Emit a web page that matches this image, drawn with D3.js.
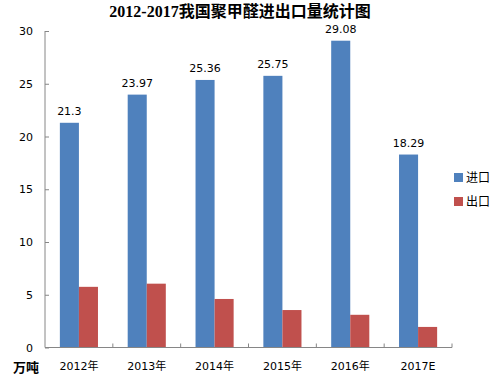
<!DOCTYPE html>
<html>
<head>
<meta charset="utf-8">
<script src="https://cdn.jsdelivr.net/npm/d3@7"></script>
<style>
  body { margin: 0; background: #fff; }
  svg { display: block; }
  text { font-family: "DejaVu Sans", "Noto Sans CJK SC", sans-serif; }
</style>
</head>
<body>
<script>
// chart data
var categories = ['2012年', '2013年', '2014年', '2015年', '2016年', '2017E'];
var importVals = [21.3, 23.97, 25.36, 25.75, 29.08, 18.29];
var exportVals = [5.75, 6.05, 4.6, 3.55, 3.1, 1.95];
var seriesNames = ['进口', '出口'];
var seriesColors = ['#4F81BD', '#C0504D'];
var yTicks = [0, 5, 10, 15, 20, 25, 30];

var w = 500, h = 378;
var plotL = 45, plotR = 452, plotT = 31, plotB = 347.5;

var svg = d3.select('body').append('svg')
    .attr('width', w)
    .attr('height', h);

var x = d3.scaleBand().domain(categories).range([plotL, plotR]);
var inner = d3.scaleBand().domain(seriesNames)
    .range([0, x.bandwidth()])
    .paddingOuter(0.78);
var y = d3.scaleLinear().domain([0, 30]).range([plotB, plotT]);

// title
svg.append('text')
    .attr('x', 240).attr('y', 17)
    .attr('text-anchor', 'middle')
    .style('font-family', '"Liberation Serif", "Noto Sans CJK SC", serif')
    .style('font-weight', 'bold')
    .style('font-size', '16px')
    .text('2012-2017我国聚甲醛进出口量统计图');

// y axis
var yAxis = svg.append('g')
    .attr('transform', 'translate(' + plotL + ',0)')
    .call(d3.axisRight(y).tickValues(yTicks).tickSize(4).tickFormat(''));
yAxis.select('.domain').attr('d', 'M0,' + plotT + 'V' + plotB);
yAxis.selectAll('line, path').attr('stroke', '#868686');

svg.selectAll('.ylab').data(yTicks).enter().append('text')
    .attr('class', 'ylab')
    .attr('x', 33)
    .attr('y', function(d){ return y(d) + 4; })
    .attr('text-anchor', 'end')
    .style('font-size', '11px')
    .text(function(d){ return d; });

// bars
var rows = categories.map(function(c, i){
  return {cat: c, vals: [importVals[i], exportVals[i]]};
});
var groups = svg.selectAll('.grp').data(rows).enter().append('g')
    .attr('class', 'grp')
    .attr('transform', function(d){ return 'translate(' + x(d.cat) + ',0)'; });

groups.selectAll('rect').data(function(d){
      return d.vals.map(function(v, j){ return {name: seriesNames[j], v: v, j: j}; });
    }).enter().append('rect')
    .attr('x', function(d){ return inner(d.name); })
    .attr('y', function(d){ return y(d.v); })
    .attr('width', inner.bandwidth())
    .attr('height', function(d){ return plotB - y(d.v); })
    .attr('fill', function(d){ return seriesColors[d.j]; });

groups.append('text')
    .attr('x', inner(seriesNames[0]) + inner.bandwidth() / 2)
    .attr('y', function(d){ return y(d.vals[0]) - 8; })
    .attr('text-anchor', 'middle')
    .style('font-size', '11px')
    .text(function(d){ return d.vals[0]; });

// x axis
var bounds = categories.map(function(c){ return x(c); }).concat([plotR]);
var xAxis = svg.append('g');
xAxis.append('line')
    .attr('x1', plotL).attr('x2', plotR)
    .attr('y1', plotB).attr('y2', plotB)
    .attr('stroke', '#868686');
xAxis.selectAll('.xt').data(bounds.slice(1)).enter().append('line')
    .attr('x1', function(d){ return d; }).attr('x2', function(d){ return d; })
    .attr('y1', plotB).attr('y2', plotB - 4)
    .attr('stroke', '#868686');

svg.selectAll('.xlab').data(categories).enter().append('text')
    .attr('class', 'xlab')
    .attr('x', function(d){ return x(d) + x.bandwidth() / 2; })
    .attr('y', 370)
    .attr('text-anchor', 'middle')
    .style('font-size', '11px')
    .text(function(d){ return d; });

// unit
svg.append('text')
    .attr('x', 26).attr('y', 372)
    .attr('text-anchor', 'middle')
    .style('font-family', '"Noto Sans CJK SC", sans-serif')
    .style('font-weight', 'bold')
    .style('font-size', '13px')
    .text('万吨');

// legend
var leg = svg.selectAll('.leg').data(seriesNames).enter().append('g')
    .attr('class', 'leg')
    .attr('transform', function(d, i){ return 'translate(454,' + (173 + i * 24) + ')'; });
leg.append('rect')
    .attr('width', 9).attr('height', 9)
    .attr('fill', function(d, i){ return seriesColors[i]; });
leg.append('text')
    .attr('x', 12).attr('y', 9)
    .style('font-family', '"Noto Sans CJK SC", sans-serif')
    .style('font-size', '12px')
    .text(function(d){ return d; });
</script>
</body>
</html>
